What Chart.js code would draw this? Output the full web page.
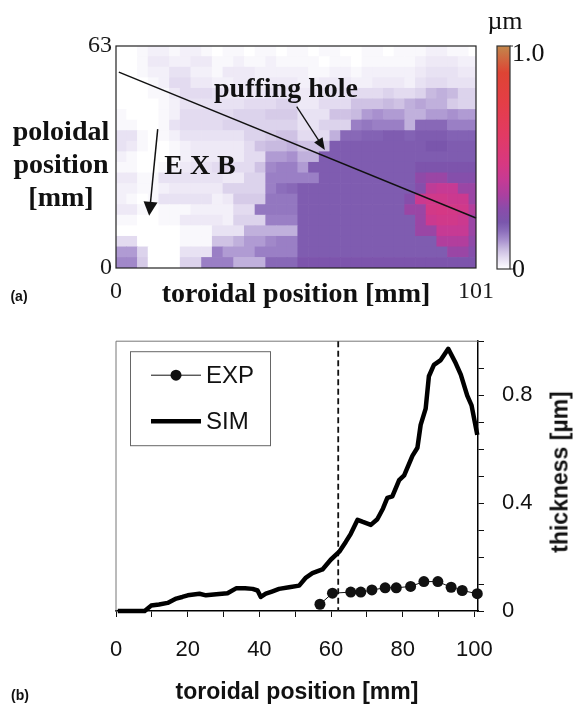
<!DOCTYPE html>
<html>
<head>
<meta charset="utf-8">
<script src="https://cdn.jsdelivr.net/npm/chart.js@4.4.1/dist/chart.umd.min.js"></script>
<style>
    body { margin: 0; background: #fff; }
    #page { position: relative; width: 581px; height: 705px; overflow: hidden; background: #fff; }
    canvas { position: absolute; left: 0; }
    .t { position: absolute; transform: translate(-50%, -50%); white-space: nowrap; line-height: 1; color: #111; }
    .l { transform: translate(0, -50%); }
    .serif { font-family: "Liberation Serif", "Times New Roman", serif; }
    .sans { font-family: "Liberation Sans", Arial, sans-serif; }
    .b { font-weight: bold; }
</style>
</head>
<body>
<div id="page">
    <canvas id="map" width="581" height="310" style="top:0"></canvas>
    <canvas id="prof" width="581" height="395" style="top:310px"></canvas>

    <div class="t serif" style="left:505px;top:21px;font-size:26px">µm</div>
    <div class="t l serif" style="left:512px;top:53px;font-size:26px">1.0</div>
    <div class="t l serif" style="left:512px;top:269px;font-size:26px">0</div>
    <div class="t serif b" style="left:61px;top:131px;font-size:28px">poloidal</div>
    <div class="t serif b" style="left:61px;top:164px;font-size:28px">position</div>
    <div class="t serif b" style="left:61px;top:197px;font-size:28px">[mm]</div>
    <div class="t serif b" style="left:296px;top:293px;font-size:28px">toroidal position [mm]</div>
    <div class="t serif b" style="left:286px;top:88px;font-size:28px">puffing hole</div>
    <div class="t serif b" style="left:200px;top:165px;font-size:28px">E X B</div>
    <div class="t sans b" style="left:19px;top:296px;font-size:14px">(a)</div>

    <div class="t sans b" style="left:297px;top:691px;font-size:23px">toroidal position [mm]</div>
    <div class="t sans b" style="left:560px;top:472px;font-size:23px;transform:translate(-50%,-50%) rotate(-90deg)">thickness [µm]</div>
    <div class="t sans b" style="left:20px;top:695px;font-size:14px">(b)</div>
</div>

<script>
(function () {

    // ---------- (a) deposition map ----------
    const cellSize = 3; // mm, one map cell
    const toroidalTicks = [0, 101];
    const poloidalTicks = [0, 63];

    // thickness per cell in 0.01 um, top row (poloidal 60-63 mm) first, toroidal 0 -> 101 mm
    const mapRows = [
        [0,0,1,2,2,1,2,2,1,0,1,1,0,1,1,0,1, 1,0,1,1,0,0,1,1,0,1,1,1,2,2,1,1,0],
        [0,0,1,3,3,2,2,3,3,1,1,2,1,1,2,1,1, 1,1,0,1,1,0,1,1,1,1,1,2,3,3,3,2,2],
        [0,0,1,2,2,4,4,2,2,1,3,3,3,2,2,2,2, 2,1,1,2,2,1,2,2,2,2,2,3,4,4,4,3,3],
        [0,0,0,1,2,5,5,3,3,2,2,3,3,2,3,3,3, 2,2,3,3,3,2,2,3,3,3,2,4,5,5,4,4,4],
        [0,0,0,1,1,3,5,5,5,4,3,3,3,3,4,4,4, 3,3,4,4,4,5,5,5,6,5,5,6,9,10,9,6,6],
        [0,0,0,0,1,2,4,4,4,4,4,4,5,5,5,6,6, 3,3,5,5,5,8,8,8,9,8,10,11,10,10,7,6,6],
        [1,0,0,0,1,2,5,5,5,5,5,6,6,6,7,7,7, 4,4,4,8,8,9,12,13,12,12,10,10,12,12,13,12,12],
        [1,1,0,0,1,4,5,5,5,5,6,6,6,6,6,6,6, 4,4,6,6,6,15,16,15,15,15,10,18,18,18,15,15,15],
        [4,4,1,0,1,2,4,4,4,4,4,4,6,6,7,8,8, 5,5,5,10,18,18,19,19,20,20,19,20,20,20,19,19,19],
        [4,3,1,0,0,1,2,3,3,3,3,3,5,8,9,9,10, 8,8,8,20,20,20,20,20,20,20,20,20,21,21,20,20,20],
        [2,1,0,0,0,1,2,3,3,3,3,3,5,5,12,12,13, 10,10,20,20,20,20,20,20,20,20,20,20,20,20,20,20,20],
        [1,1,0,0,1,2,3,4,4,5,5,5,5,8,14,15,15, 12,20,20,20,20,20,20,20,20,20,20,22,22,22,22,22,22],
        [3,3,1,1,4,4,4,4,4,4,3,3,6,6,15,15,15, 15,15,20,20,20,20,20,20,20,20,20,28,30,30,25,25,25],
        [2,2,1,1,2,3,3,3,3,3,6,6,6,6,15,17,18, 20,20,20,20,20,20,20,20,20,20,20,25,38,40,40,30,30],
        [2,1,0,1,4,4,4,4,4,2,3,7,7,7,16,16,16, 20,20,20,20,20,20,20,20,20,20,25,42,44,44,42,42,30],
        [3,3,1,0,1,1,1,2,2,2,2,5,5,16,16,16,16, 20,20,20,20,20,20,20,20,20,20,30,30,45,46,45,44,35],
        [1,1,0,0,1,1,3,3,3,3,2,6,6,6,15,15,15, 20,20,20,20,20,20,20,20,20,20,20,30,42,44,44,42,30],
        [0,0,0,0,0,0,1,1,1,4,4,4,10,10,10,10,10, 20,20,20,20,20,20,20,20,20,20,20,30,30,40,40,40,30],
        [5,5,0,0,0,0,1,1,1,8,8,10,12,12,14,15,15, 20,20,20,20,20,20,20,20,20,20,20,20,20,35,35,35,28],
        [12,12,6,0,0,0,4,4,4,15,12,12,12,15,15,15,15, 20,20,20,20,20,20,20,20,20,20,20,20,20,20,30,30,25],
        [14,14,7,0,0,0,6,6,15,15,15,10,10,10,18,18,18, 22,22,22,22,22,22,22,22,22,22,22,22,22,22,22,22,22]
    ];

    // colour scale, thickness in um -> rgb
    const colorStops = [
        [0.00, [255, 255, 255]],
        [0.02, [243, 240, 249]],
        [0.05, [227, 219, 240]],
        [0.09, [200, 186, 224]],
        [0.13, [168, 144, 206]],
        [0.17, [140, 110, 187]],
        [0.21, [122, 86, 172]],
        [0.27, [138, 76, 170]],
        [0.33, [170, 64, 160]],
        [0.40, [198, 58, 148]],
        [0.47, [215, 56, 130]],
        [0.60, [226, 58, 100]],
        [0.75, [228, 62, 70]],
        [0.88, [222, 68, 52]],
        [1.00, [195, 135, 75]]
    ];

    // annotations in map coordinates (mm)
    const holeLine = [[0.8, 55.6], [101, 14.2]];
    const exbArrow = [[11.7, 39.4], [9.3, 14.8]];
    const puffArrow = [[50.7, 45.8], [58.6, 33.5]];

    // ---------- (b) profile ----------
    const simX = [0.5, 4, 8, 9.8, 12, 14.4, 16.8, 18.5, 20, 23.3, 25.1, 28, 31.1, 33.5, 36, 38.1, 39.5, 40.4, 41.8, 43.5,
        45.5, 48.3, 51.1, 53, 54.8, 57.6, 59.9, 62.3, 64.1, 65.5, 67.4, 68.7, 71.1, 72.9, 74.5, 75.7, 77.1, 79, 80.4,
        82.7, 84.1, 85, 86.4, 87.3, 88.7, 90.6, 92.7, 94.8, 96.2, 98, 99.2, 100.8];
    const simY = [0, 0, 0, 0.02, 0.024, 0.03, 0.046, 0.052, 0.058, 0.064, 0.058, 0.062, 0.066, 0.084, 0.084, 0.082, 0.076, 0.052, 0.064, 0.072,
        0.082, 0.088, 0.094, 0.124, 0.14, 0.154, 0.19, 0.22, 0.256, 0.286, 0.338, 0.331, 0.319, 0.34, 0.38, 0.419, 0.425, 0.485, 0.503,
        0.575, 0.605, 0.69, 0.75, 0.87, 0.912, 0.93, 0.972, 0.918, 0.876, 0.798, 0.762, 0.653];
    const expX = [56.9, 60.4, 65.5, 68.3, 71.4, 75.1, 78.2, 82.2, 85.9, 89.8, 93.5, 96.6, 100.8];
    const expY = [0.025, 0.066, 0.07, 0.07, 0.078, 0.086, 0.086, 0.091, 0.109, 0.109, 0.088, 0.076, 0.064];
    const puffX = 62; // puffing hole position, mm


    let mapColor = function (v) {
        if (v <= colorStops[0][0])
            return 'rgb(' + colorStops[0][1].join(',') + ')';
        for (let i = 1; i < colorStops.length; i++) {
            const a = colorStops[i - 1], b = colorStops[i];
            if (v <= b[0]) {
                const f = (v - a[0]) / (b[0] - a[0]);
                const c = a[1].map((ch, k) => Math.round(ch + (b[1][k] - ch) * f));
                return 'rgb(' + c.join(',') + ')';
            }
        }
        return 'rgb(' + colorStops[colorStops.length - 1][1].join(',') + ')';
    };

    let arrow = function (ctx, x1, y1, x2, y2, len, half) {
        const ang = Math.atan2(y2 - y1, x2 - x1);
        ctx.beginPath();
        ctx.moveTo(x1, y1);
        ctx.lineTo(x2 - Math.cos(ang) * len * 0.8, y2 - Math.sin(ang) * len * 0.8);
        ctx.stroke();
        ctx.beginPath();
        ctx.moveTo(x2, y2);
        ctx.lineTo(x2 - Math.cos(ang) * len - Math.sin(ang) * half, y2 - Math.sin(ang) * len + Math.cos(ang) * half);
        ctx.lineTo(x2 - Math.cos(ang) * len + Math.sin(ang) * half, y2 - Math.sin(ang) * len - Math.cos(ang) * half);
        ctx.closePath();
        ctx.fill();
    };

    // one stacked dataset per map row, bottom row first
    const mapDatasets = [];
    for (let r = mapRows.length - 1; r >= 0; r--) {
        const row = mapRows[r];
        mapDatasets.push({
            data: row.map((v, i) => ({x: i * cellSize + cellSize / 2, y: cellSize})),
            backgroundColor: row.map(v => mapColor(v / 100)),
            borderWidth: 0,
            barPercentage: 1,
            categoryPercentage: 1
        });
    }

    const mapDecor = {
        id: 'mapDecor',
        afterDatasetsDraw(chart) {
            const ctx = chart.ctx, a = chart.chartArea;
            const sx = chart.scales.x, sy = chart.scales.y;
            const px = p => [sx.getPixelForValue(p[0]), sy.getPixelForValue(p[1])];
            ctx.save();
            ctx.strokeStyle = '#111';
            ctx.fillStyle = '#111';

            ctx.lineWidth = 1.5;
            let p1 = px(holeLine[0]), p2 = px(holeLine[1]);
            ctx.beginPath();
            ctx.moveTo(p1[0], p1[1]);
            ctx.lineTo(p2[0], p2[1]);
            ctx.stroke();

            p1 = px(exbArrow[0]); p2 = px(exbArrow[1]);
            arrow(ctx, p1[0], p1[1], p2[0], p2[1], 14, 7);
            ctx.lineWidth = 1.3;
            p1 = px(puffArrow[0]); p2 = px(puffArrow[1]);
            arrow(ctx, p1[0], p1[1], p2[0], p2[1], 12, 5);

            // frame
            ctx.lineWidth = 1.2;
            ctx.strokeStyle = '#222';
            ctx.strokeRect(a.left, a.top, a.right - a.left, a.bottom - a.top);

            // colour bar
            const x0 = a.right + 21, w = 13, yTop = a.top, yBot = a.bottom + 1;
            const g = ctx.createLinearGradient(0, yBot, 0, yTop);
            colorStops.forEach(s => g.addColorStop(s[0], 'rgb(' + s[1].join(',') + ')'));
            ctx.fillStyle = g;
            ctx.fillRect(x0, yTop, w, yBot - yTop);
            ctx.lineWidth = 1.2;
            ctx.strokeStyle = '#333';
            ctx.strokeRect(x0, yTop, w, yBot - yTop);
            ctx.beginPath();
            ctx.moveTo(x0 + w, yTop); ctx.lineTo(x0 + w + 3, yTop);
            ctx.moveTo(x0 + w, yBot); ctx.lineTo(x0 + w + 3, yBot);
            ctx.stroke();
            ctx.restore();
        }
    };

    const serifTick = {family: '"Liberation Serif", "Times New Roman", serif', size: 24};

    new Chart(document.getElementById('map').getContext('2d'), {
        type: 'bar',
        data: {datasets: mapDatasets},
        options: {
            responsive: false,
            animation: false,
            devicePixelRatio: 1,
            layout: {padding: {top: 46, right: 105, left: 0, bottom: 0}},
            plugins: {legend: {display: false}, tooltip: {enabled: false}},
            scales: {
                x: {
                    type: 'linear',
                    min: toroidalTicks[0],
                    max: toroidalTicks[1],
                    offset: false,
                    stacked: true,
                    grid: {display: false, drawTicks: false},
                    border: {display: false},
                    afterBuildTicks: s => { s.ticks = toroidalTicks.map(v => ({value: v})); },
                    afterFit: s => { s.height = 42; },
                    ticks: {font: serifTick, color: '#1a1a1a', padding: 9, autoSkip: false, maxRotation: 0}
                },
                y: {
                    type: 'linear',
                    min: poloidalTicks[0],
                    max: poloidalTicks[1],
                    stacked: true,
                    grid: {display: false, drawTicks: false},
                    border: {display: false},
                    afterBuildTicks: s => { s.ticks = poloidalTicks.map(v => ({value: v})); },
                    afterFit: s => { s.width = 116; },
                    ticks: {font: serifTick, color: '#1a1a1a', padding: 4, autoSkip: false}
                }
            }
        },
        plugins: [mapDecor]
    });


    // ---------- (b) ----------
    const sansFont = '"Liberation Sans", Arial, sans-serif';

    const profDecor = {
        id: 'profDecor',
        beforeDatasetsDraw(chart) {
            const ctx = chart.ctx, a = chart.chartArea;
            ctx.save();
            ctx.strokeStyle = '#777';
            ctx.lineWidth = 1;
            ctx.beginPath();
            ctx.moveTo(a.left, a.bottom);
            ctx.lineTo(a.left, a.top);
            ctx.lineTo(a.right, a.top);
            ctx.stroke();

            const xp = chart.scales.x.getPixelForValue(puffX);
            ctx.strokeStyle = '#111';
            ctx.lineWidth = 1.8;
            ctx.setLineDash([6, 3.5]);
            ctx.beginPath();
            ctx.moveTo(xp, a.top);
            ctx.lineTo(xp, a.bottom);
            ctx.stroke();
            ctx.restore();
        },
        afterDraw(chart) {
            const ctx = chart.ctx, a = chart.chartArea;
            const bx = a.left + 14, by = a.top + 10;
            ctx.save();
            ctx.fillStyle = '#fff';
            ctx.fillRect(bx, by, 140, 94);
            ctx.strokeStyle = '#666';
            ctx.lineWidth = 1;
            ctx.strokeRect(bx + 0.5, by + 0.5, 140, 94);

            const ds = chart.data.datasets;
            ctx.font = '24px ' + sansFont;
            ctx.textBaseline = 'middle';
            ctx.fillStyle = '#111';
            ds.forEach((d, i) => {
                const y = by + (i === 0 ? 24 : 70);
                ctx.strokeStyle = d.borderColor;
                ctx.lineWidth = d.borderWidth;
                ctx.beginPath();
                ctx.moveTo(bx + 21, y);
                ctx.lineTo(bx + 71, y);
                ctx.stroke();
                if (d.pointRadius > 0) {
                    ctx.beginPath();
                    ctx.arc(bx + 46, y, d.pointRadius, 0, Math.PI * 2);
                    ctx.fillStyle = d.pointBackgroundColor;
                    ctx.fill();
                }
                ctx.fillStyle = '#111';
                ctx.fillText(d.label, bx + 76, y + 1);
            });
            ctx.restore();
        }
    };

    new Chart(document.getElementById('prof').getContext('2d'), {
        type: 'line',
        data: {
            datasets: [{
                    label: 'EXP',
                    data: expX.map((x, i) => ({x: x, y: expY[i]})),
                    borderColor: '#111',
                    borderWidth: 1,
                    pointRadius: 5.5,
                    pointBackgroundColor: '#111',
                    pointBorderWidth: 0,
                    clip: false
                }, {
                    label: 'SIM',
                    data: simX.map((x, i) => ({x: x, y: simY[i]})),
                    borderColor: '#000',
                    borderWidth: 4.5,
                    borderJoinStyle: 'round',
                    pointRadius: 0,
                    clip: false
                }]
        },
        options: {
            responsive: false,
            animation: false,
            devicePixelRatio: 1,
            layout: {padding: {top: 24, left: 116, right: 0, bottom: 0}},
            plugins: {legend: {display: false}, tooltip: {enabled: false}},
            scales: {
                x: {
                    type: 'linear',
                    min: 0,
                    max: 101,
                    grid: {drawOnChartArea: false, tickLength: 6, color: '#111'},
                    border: {display: true, color: '#000', width: 1.5},
                    afterFit: s => { s.height = 94; },
                    ticks: {
                        stepSize: 10,
                        includeBounds: false,
                        autoSkip: false,
                        maxRotation: 0,
                        padding: 20,
                        color: '#111',
                        font: {family: sansFont, size: 22},
                        callback: v => (v % 20 === 0 ? String(v) : '')
                    }
                },
                y: {
                    type: 'linear',
                    position: 'right',
                    min: 0,
                    max: 1.0,
                    grid: {drawOnChartArea: false, tickLength: 6, color: '#111'},
                    border: {display: true, color: '#000', width: 1.5},
                    afterFit: s => { s.width = 103; },
                    ticks: {
                        stepSize: 0.1,
                        autoSkip: false,
                        padding: 18,
                        color: '#111',
                        font: {family: sansFont, size: 22},
                        callback: function (v) {
                            const q = v / 0.4;
                            return Math.abs(q - Math.round(q)) < 1e-6 ? String(Number(v.toFixed(1))) : '';
                        }
                    }
                }
            }
        },
        plugins: [profDecor]
    });

})();
</script>
</body>
</html>
